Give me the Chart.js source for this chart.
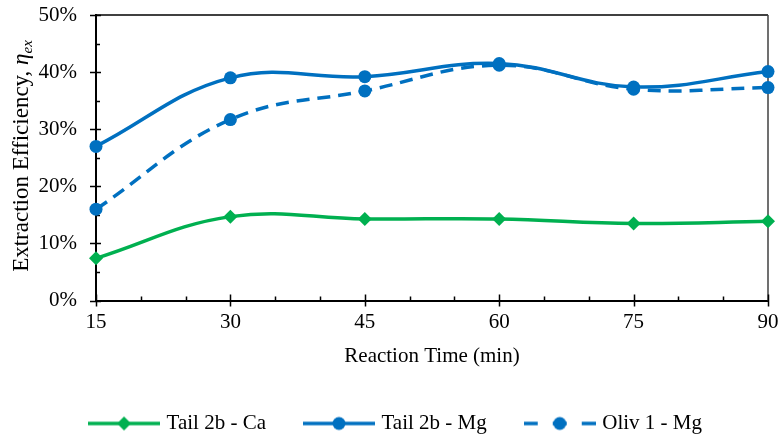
<!DOCTYPE html>
<html>
<head>
<meta charset="utf-8">
<script src="https://cdn.jsdelivr.net/npm/chart.js@4"></script>
<style>
  html, body { margin: 0; padding: 0; background: #fff; }
  #wrap { width: 781px; height: 434px; }
</style>
</head>
<body>
<div id="wrap"><canvas id="myChart" width="781" height="434"></canvas></div>
<script>
var times = [15, 30, 45, 60, 75, 90];
var tailCa = [7.4, 14.7, 14.3, 14.3, 13.5, 13.9];
var tailMg = [27.0, 39.0, 39.2, 41.5, 37.4, 40.1];
var olivMg = [16.0, 31.7, 36.7, 41.2, 37.0, 37.3];
var xTicks = [15, 30, 45, 60, 75, 90];
var yTicks = [0, 10, 20, 30, 40, 50];

var green = '#00B050';
var blue = '#0070C0';
var serif = '"Liberation Serif", "Times New Roman", serif';

function pts(vals) {
    return times.map(function (t, i) { return { x: t, y: vals[i] }; });
}

// little line + marker picture for the legend
function legendIcon(color, shape, dashed) {
    var c = document.createElement('canvas');
    c.width = 72; c.height = 18;
    var g = c.getContext('2d');
    g.strokeStyle = color;
    g.lineWidth = 3.5;
    if (dashed) g.setLineDash([14, 15]);
    g.beginPath(); g.moveTo(0, 9); g.lineTo(72, 9); g.stroke();
    g.setLineDash([]);
    g.fillStyle = color;
    g.beginPath();
    if (shape == 'rectRot') {
        g.moveTo(36, 2); g.lineTo(43, 9); g.lineTo(36, 16); g.lineTo(29, 9);
    } else {
        g.arc(36, 9, 6.5, 0, Math.PI * 2);
    }
    g.fill();
    return c;
}

// frame on top/right + the tick marks (major cross the axis, minor inside)
var axisMarks = {
    id: 'axisMarks',
    beforeDatasetsDraw: function (chart) {
        var ctx = chart.ctx, a = chart.chartArea;
        var x = chart.scales.x, y = chart.scales.y;
        ctx.save();
        ctx.strokeStyle = '#000';
        ctx.lineWidth = 1.5;
        ctx.beginPath(); ctx.moveTo(a.left, a.top); ctx.lineTo(a.right, a.top); ctx.stroke();
        ctx.strokeStyle = '#404040';
        ctx.beginPath(); ctx.moveTo(a.right, a.top); ctx.lineTo(a.right, a.bottom); ctx.stroke();
        ctx.strokeStyle = '#000';
        ctx.lineWidth = 1.5;
        ctx.beginPath();
        for (var v = 0; v <= 50; v += 5) {
            var py = Math.round(y.getPixelForValue(v)) + 0.5;
            if (v % 10 == 0) { ctx.moveTo(a.left - 6, py); ctx.lineTo(a.left + 5, py); }
            else { ctx.moveTo(a.left, py); ctx.lineTo(a.left + 4, py); }
        }
        for (var t = 15; t <= 90; t += 5) {
            var px = Math.round(x.getPixelForValue(t)) + 0.5;
            if (t % 15 == 0) { ctx.moveTo(px, a.bottom - 6); ctx.lineTo(px, a.bottom + 6); }
            else { ctx.moveTo(px, a.bottom - 4); ctx.lineTo(px, a.bottom); }
        }
        ctx.stroke();
        ctx.restore();
    }
};

// y title with italic eta and subscript
var yTitle = {
    id: 'yTitle',
    afterDraw: function (chart) {
        var ctx = chart.ctx;
        var main = 'Extraction Efficiency, ';
        ctx.save();
        ctx.font = '23px ' + serif;
        var w1 = ctx.measureText(main).width;
        ctx.font = 'italic 23px ' + serif;
        var w2 = ctx.measureText('\u03B7').width;
        ctx.font = 'italic 15px ' + serif;
        var w3 = ctx.measureText('ex').width;
        var total = w1 + w2 + w3;
        ctx.translate(28, 156);
        ctx.rotate(-Math.PI / 2);
        ctx.fillStyle = '#000';
        ctx.textBaseline = 'alphabetic';
        ctx.textAlign = 'left';
        var sx = -total / 2;
        ctx.font = '23px ' + serif;
        ctx.fillText(main, sx, 0);
        ctx.font = 'italic 23px ' + serif;
        ctx.fillText('\u03B7', sx + w1, 0);
        ctx.font = 'italic 15px ' + serif;
        ctx.fillText('ex', sx + w1 + w2, 4);
        ctx.restore();
    }
};

var ctx = document.getElementById('myChart').getContext('2d');
var myChart = new Chart(ctx, {
    type: 'line',
    data: {
        datasets: [{
            label: 'Tail 2b - Ca',
            data: pts(tailCa),
            borderColor: green,
            backgroundColor: green,
            borderWidth: 3.5,
            pointStyle: 'rectRot',
            pointRadius: 7,
            pointBorderWidth: 0,
            tension: 0.4,
            clip: false
        }, {
            label: 'Tail 2b - Mg',
            data: pts(tailMg),
            borderColor: blue,
            backgroundColor: blue,
            borderWidth: 3.5,
            pointStyle: 'circle',
            pointRadius: 6.5,
            pointBorderWidth: 0,
            tension: 0.4,
            clip: false
        }, {
            label: 'Oliv 1 - Mg',
            data: pts(olivMg),
            borderColor: blue,
            backgroundColor: blue,
            borderWidth: 3.5,
            borderDash: [13, 8],
            pointStyle: 'circle',
            pointRadius: 6.5,
            pointBorderWidth: 0,
            tension: 0.4,
            clip: false
        }]
    },
    options: {
        responsive: false,
        animation: false,
        layout: { padding: { left: 26, right: 13, top: 15, bottom: -10 } },
        plugins: {
            tooltip: { enabled: false },
            legend: {
                position: 'bottom',
                labels: {
                    usePointStyle: true,
                    pointStyleWidth: 64,
                    padding: 41,
                    color: '#000',
                    font: { family: serif, size: 21 },
                    generateLabels: function (chart) {
                        return chart.data.datasets.map(function (ds, i) {
                            return {
                                text: ds.label,
                                pointStyle: legendIcon(ds.borderColor, ds.pointStyle, !!ds.borderDash),
                                fontColor: '#000',
                                datasetIndex: i,
                                lineWidth: 0,
                                strokeStyle: 'transparent',
                                fillStyle: 'transparent'
                            };
                        });
                    }
                }
            }
        },
        scales: {
            x: {
                type: 'linear',
                min: 15,
                max: 90,
                afterBuildTicks: function (scale) {
                    scale.ticks = xTicks.map(function (v) { return { value: v }; });
                },
                grid: { display: false, drawTicks: true, tickLength: 9 },
                border: { display: true, color: '#000', width: 2 },
                ticks: {
                    padding: 0,
                    color: '#000',
                    font: { family: serif, size: 21 }
                },
                title: {
                    display: true,
                    text: 'Reaction Time (min)',
                    color: '#000',
                    font: { family: serif, size: 21 },
                    padding: { top: 9, bottom: 3 }
                }
            },
            y: {
                min: 0,
                max: 50,
                afterBuildTicks: function (scale) {
                    scale.ticks = yTicks.map(function (v) { return { value: v }; });
                },
                afterFit: function (scale) { scale.width = 70; },
                grid: { display: false, drawTicks: true, tickLength: 19 },
                border: { display: true, color: '#000', width: 2 },
                ticks: {
                    padding: 0,
                    color: '#000',
                    font: { family: serif, size: 21 },
                    callback: function (v) { return v + '%'; }
                }
            }
        }
    },
    plugins: [axisMarks, yTitle]
});
</script>
</body>
</html>
